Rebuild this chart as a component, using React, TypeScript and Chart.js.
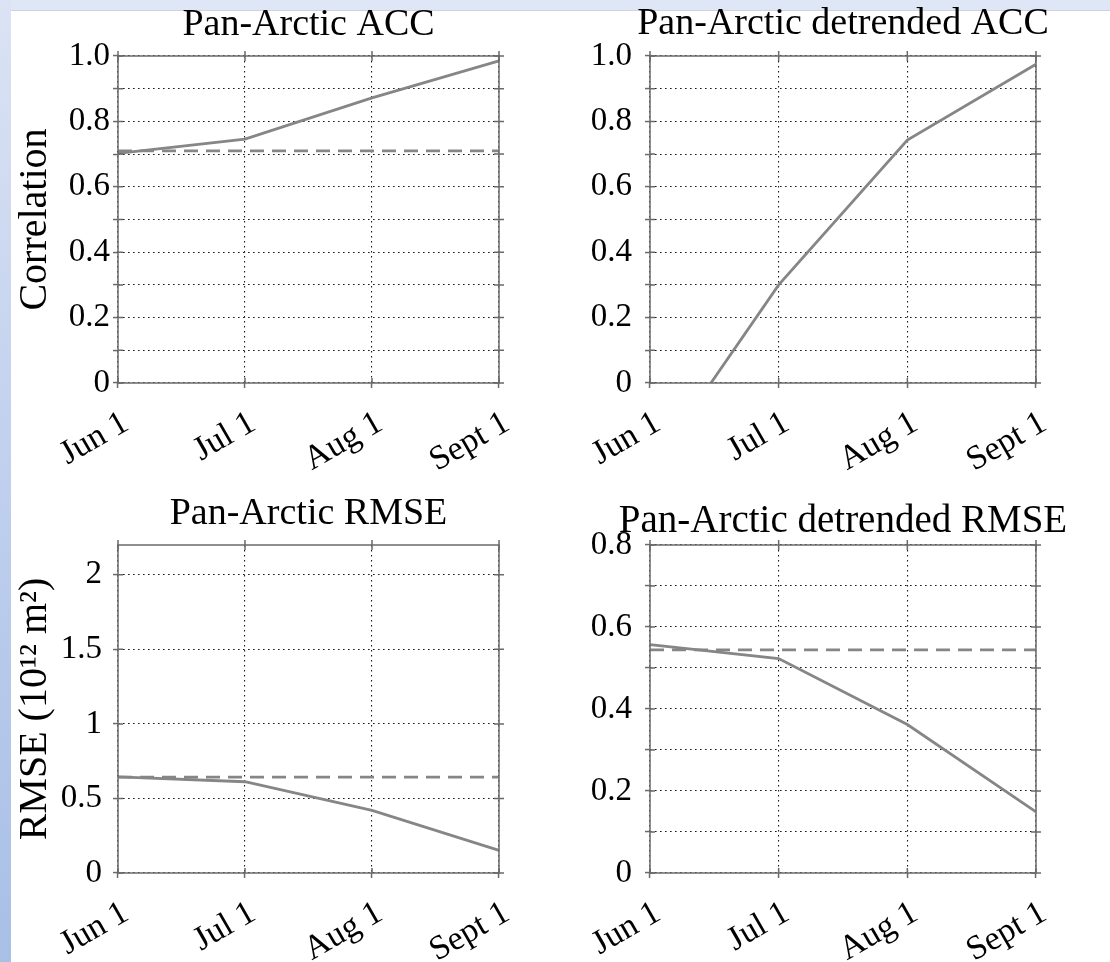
import React, { useEffect, useRef } from 'react';
import { Chart, registerables } from 'chart.js';

Chart.register(...registerables);

// ---------- data ----------
const dates = ['Jun 1', 'Jul 1', 'Aug 1', 'Sept 1'];

const accForecast = [0.702, 0.746, 0.872, 0.985];
const accReference = [0.71, 0.71, 0.71, 0.71];

const detrendedAccForecast = [-0.27, 0.3, 0.743, 0.975];

const rmseForecast = [0.645, 0.612, 0.42, 0.152];
const rmseReference = [0.643, 0.643, 0.643, 0.643];

const detrendedRmseForecast = [0.557, 0.523, 0.362, 0.149];
const detrendedRmseReference = [0.544, 0.544, 0.544, 0.544];

const corrGridValues = [0, 0.1, 0.2, 0.3, 0.4, 0.5, 0.6, 0.7, 0.8, 0.9, 1.0];
const corrTickLabels = ['0', '', '0.2', '', '0.4', '', '0.6', '', '0.8', '', '1.0'];

const rmseGridValues = [0, 0.5, 1, 1.5, 2];
const rmseTickLabels = ['0', '0.5', '1', '1.5', '2'];

const detRmseGridValues = [0, 0.1, 0.2, 0.3, 0.4, 0.5, 0.6, 0.7, 0.8];
const detRmseTickLabels = ['0', '', '0.2', '', '0.4', '', '0.6', '', '0.8'];

const FONT = "'Liberation Serif', 'Times New Roman', serif";
const LINE_COLOR = '#868686';

const framePlugin = {
  id: 'frame',
  afterDatasetsDraw(chart: any) {
    const { ctx, chartArea } = chart;
    const { left, right, top, bottom } = chartArea;
    ctx.save();
    ctx.strokeStyle = '#6a6a6a';
    ctx.lineWidth = 1.5;
    ctx.setLineDash([]);
    ctx.strokeRect(left, top, right - left, bottom - top);
    const ys = chart.scales.y;
    const xs = chart.scales.x;
    ctx.beginPath();
    ys.ticks.forEach((_t: any, i: number) => {
      const py = ys.getPixelForTick(i);
      ctx.moveTo(left, py);
      ctx.lineTo(left + 5, py);
      ctx.moveTo(right - 5, py);
      ctx.lineTo(right + 5, py);
    });
    xs.ticks.forEach((_t: any, i: number) => {
      const px = xs.getPixelForTick(i);
      ctx.moveTo(px, bottom);
      ctx.lineTo(px, bottom - 5);
      ctx.moveTo(px, top - 5);
      ctx.lineTo(px, top + 5);
    });
    ctx.stroke();
    ctx.restore();
  },
};

type PanelProps = {
  left: number;
  top: number;
  width: number;
  height: number;
  title: string;
  titleSize: number;
  titlePadTop: number;
  titlePadBottom: number;
  padLeft: number;
  yWidth: number;
  rightWidth: number;
  xHeight: number;
  yMax: number;
  gridValues: number[];
  tickLabels: string[];
  yTickPadding: number;
  yTitle?: string;
  forecast: number[];
  reference?: number[];
};

const gridStyle = {
  color: '#1a1a1a',
  lineWidth: 1.1,
  drawTicks: true,
  tickLength: 5,
  tickColor: '#6a6a6a',
  tickWidth: 1.5,
  tickBorderDash: [],
};

function Panel(p: PanelProps) {
  const ref = useRef<HTMLCanvasElement | null>(null);
  useEffect(() => {
    if (!ref.current) return;
    const datasets: any[] = [
      {
        data: p.forecast,
        borderColor: LINE_COLOR,
        borderWidth: 2.8,
        pointRadius: 0,
        tension: 0,
        fill: false,
        yAxisID: 'y',
      },
    ];
    if (p.reference) {
      datasets.push({
        data: p.reference,
        borderColor: LINE_COLOR,
        borderWidth: 2.8,
        borderDash: [14, 8],
        pointRadius: 0,
        tension: 0,
        fill: false,
        yAxisID: 'y',
      });
    }
    const chart = new Chart(ref.current, {
      type: 'line',
      data: { labels: dates, datasets },
      plugins: [framePlugin],
      options: {
        responsive: false,
        animation: false,
        layout: { padding: { left: p.padLeft, right: 0, top: 0, bottom: 0 } },
        plugins: {
          legend: { display: false },
          tooltip: { enabled: false },
          title: {
            display: true,
            text: p.title,
            fullSize: true,
            color: '#000',
            font: { family: FONT, size: p.titleSize, weight: 'normal', lineHeight: 1 },
            padding: { top: p.titlePadTop, bottom: p.titlePadBottom },
          },
        },
        scales: {
          x: {
            type: 'category',
            offset: false,
            afterFit: (s: any) => {
              s.height = p.xHeight;
            },
            grid: gridStyle,
            border: { display: false, dash: [1.6, 3.4] },
            ticks: {
              color: '#000',
              font: { family: FONT, size: 34 },
              minRotation: 30,
              maxRotation: 30,
              autoSkip: false,
              padding: 15,
              labelOffset: 8,
            },
          },
          y: {
            type: 'linear',
            position: 'left',
            min: 0,
            max: p.yMax,
            afterFit: (s: any) => {
              s.width = p.yWidth;
            },
            afterBuildTicks: (s: any) => {
              s.ticks = p.gridValues.map((v) => ({ value: v }));
            },
            grid: gridStyle,
            border: { display: false, dash: [1.6, 3.4] },
            ticks: {
              color: '#000',
              font: { family: FONT, size: 33 },
              autoSkip: false,
              padding: p.yTickPadding,
              callback: (_v: any, i: number) => p.tickLabels[i] ?? '',
            },
            title: {
              display: !!p.yTitle,
              text: p.yTitle || '',
              color: '#000',
              font: { family: FONT, size: 40, lineHeight: 1 },
              padding: { top: 15, bottom: 0 },
            },
          },
          yR: {
            type: 'linear',
            position: 'right',
            display: true,
            min: 0,
            max: 1,
            afterFit: (s: any) => {
              s.width = p.rightWidth;
            },
            grid: { display: false, drawTicks: false },
            border: { display: false },
            ticks: { display: false },
          },
        },
      } as any,
    });
    return () => chart.destroy();
  }, []);
  return (
    <canvas
      ref={ref}
      width={p.width}
      height={p.height}
      style={{ position: 'absolute', left: p.left, top: p.top, width: p.width, height: p.height }}
    />
  );
}

export default function App() {
  return (
    <div
      style={{
        position: 'absolute',
        left: 0,
        top: 0,
        width: 1110,
        height: 962,
        background: '#ffffff',
        overflow: 'hidden',
      }}
    >
      <div
        style={{
          position: 'absolute',
          left: 0,
          top: 0,
          width: 1110,
          height: 10,
          background: '#dfe6f5',
          borderBottom: '1px solid #cdd4e0',
        }}
      />
      <div
        style={{
          position: 'absolute',
          left: 0,
          top: 0,
          width: 11,
          height: 962,
          background: 'linear-gradient(#dbe3f4, #c2d1ee 45%, #a8bfe6)',
        }}
      />
      <Panel
        left={0}
        top={0}
        width={617}
        height={480}
        title="Pan-Arctic ACC"
        titleSize={38}
        titlePadTop={6}
        titlePadBottom={12}
        padLeft={0}
        yWidth={118}
        rightWidth={118}
        xHeight={97}
        yMax={1}
        gridValues={corrGridValues}
        tickLabels={corrTickLabels}
        yTickPadding={3}
        yTitle="Correlation"
        forecast={accForecast}
        reference={accReference}
      />
      <Panel
        left={560}
        top={0}
        width={550}
        height={480}
        title="Pan-Arctic detrended ACC"
        titleSize={38}
        titlePadTop={5}
        titlePadBottom={13}
        padLeft={16}
        yWidth={74}
        rightWidth={74}
        xHeight={97}
        yMax={1}
        gridValues={corrGridValues}
        tickLabels={corrTickLabels}
        yTickPadding={13}
        forecast={detrendedAccForecast}
      />
      <Panel
        left={0}
        top={480}
        width={617}
        height={482}
        title="Pan-Arctic RMSE"
        titleSize={38}
        titlePadTop={15}
        titlePadBottom={12}
        padLeft={0}
        yWidth={118}
        rightWidth={118}
        xHeight={89}
        yMax={2.2}
        gridValues={rmseGridValues}
        tickLabels={rmseTickLabels}
        yTickPadding={11}
        yTitle="RMSE (10¹² m²)"
        forecast={rmseForecast}
        reference={rmseReference}
      />
      <Panel
        left={560}
        top={480}
        width={550}
        height={482}
        title="Pan-Arctic detrended RMSE"
        titleSize={39}
        titlePadTop={22}
        titlePadBottom={4}
        padLeft={16}
        yWidth={74}
        rightWidth={74}
        xHeight={89}
        yMax={0.8}
        gridValues={detRmseGridValues}
        tickLabels={detRmseTickLabels}
        yTickPadding={13}
        forecast={detrendedRmseForecast}
        reference={detrendedRmseReference}
      />
    </div>
  );
}
